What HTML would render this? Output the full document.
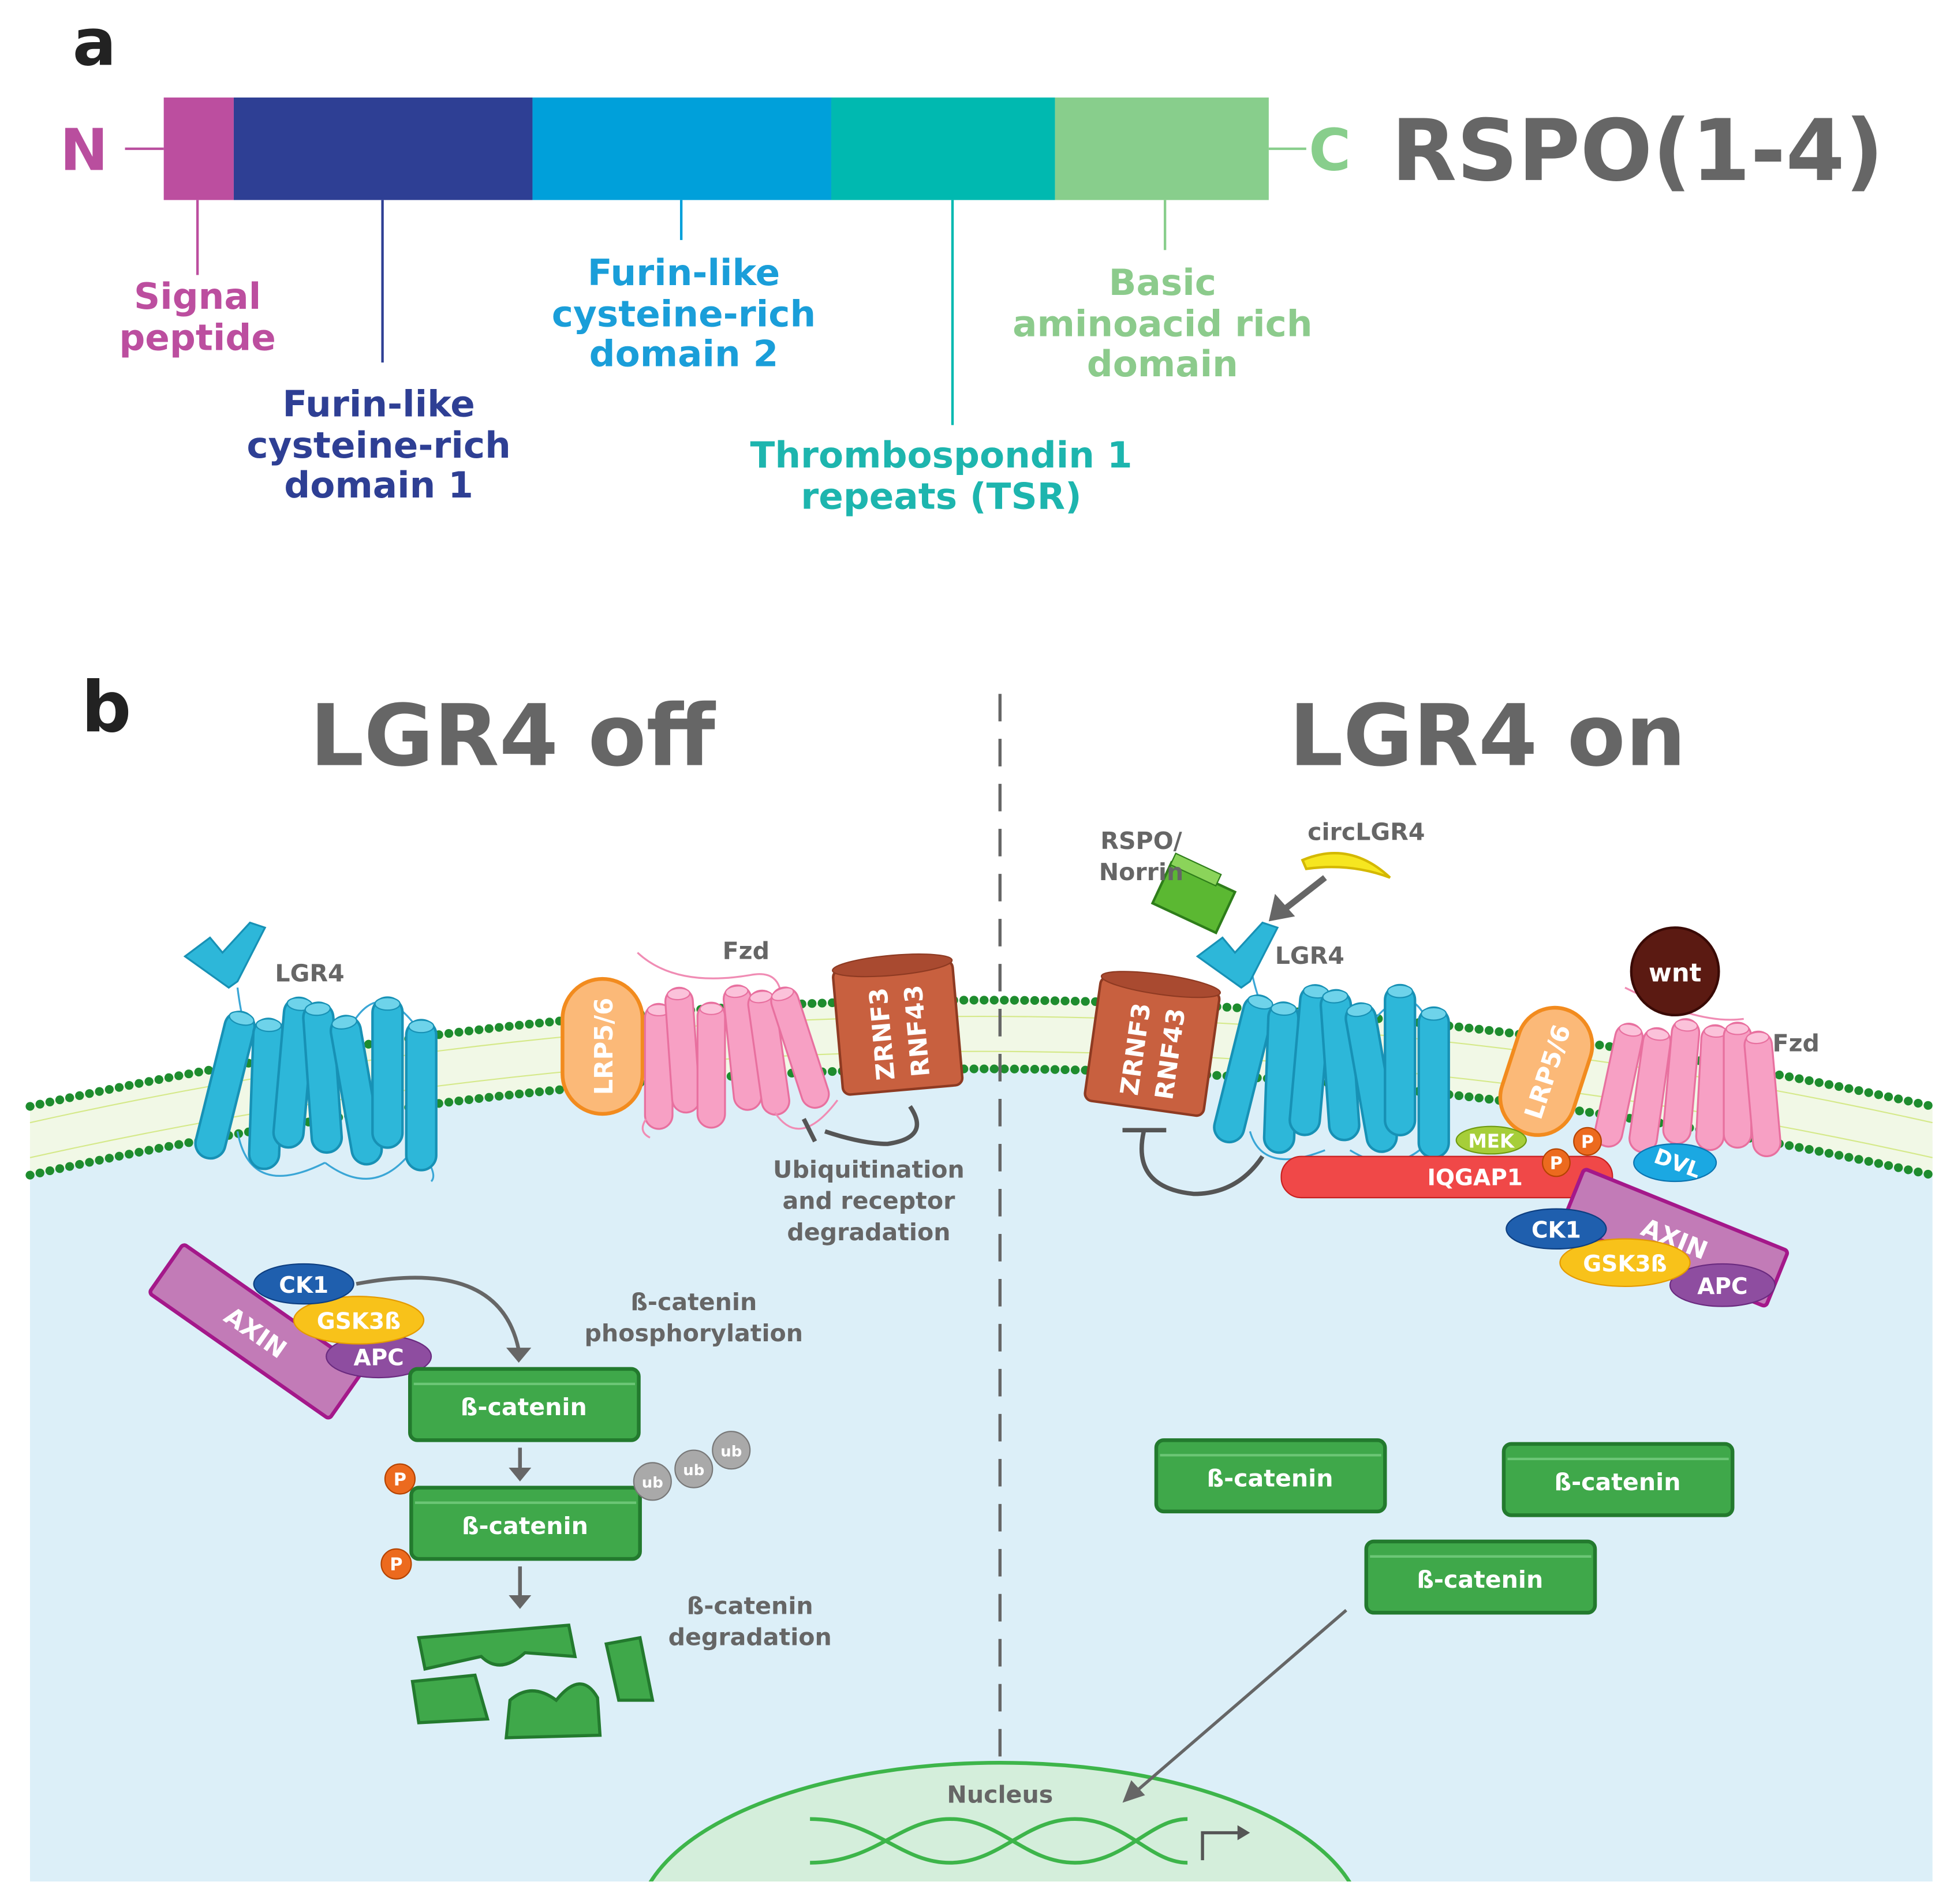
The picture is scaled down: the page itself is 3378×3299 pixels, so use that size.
<!DOCTYPE html>
<html><head><meta charset="utf-8"><style>
html,body{margin:0;padding:0;background:#fff;width:3378px;height:3299px;overflow:hidden}
svg{display:block;position:absolute;left:0;top:0}
text{font-family:"DejaVu Sans","Liberation Sans",sans-serif;font-weight:bold}
</style></head><body>
<svg width="3378" height="3299" viewBox="0 0 1560 1523" preserveAspectRatio="none" xmlns="http://www.w3.org/2000/svg">
<defs>
<g id="bc"><rect x="-12" y="-60" width="24" height="120" rx="12" fill="#2DB7D9" stroke="#1791B5" stroke-width="2"/><ellipse cx="0" cy="-55" rx="10" ry="5" fill="#6ED3EA" stroke="#1791B5"/></g>
<g id="pc"><rect x="-11" y="-50" width="22" height="100" rx="11" fill="#F7A0C4" stroke="#E8709F" stroke-width="1.5"/><ellipse cx="0" cy="-45" rx="9" ry="4.5" fill="#FBC2DA" stroke="#E8709F"/></g>
<g id="bcat"><rect x="0" y="0" width="183" height="57" rx="6" fill="#3FA84A" stroke="#237A2E" stroke-width="3"/><line x1="3" y1="12" x2="180" y2="12" stroke="#6CC676" stroke-width="2"/><text x="91" y="37" font-size="19" fill="#fff" text-anchor="middle">ß-catenin</text></g>
</defs>

<text x="58" y="52" font-size="52" fill="#222">a</text>
<text x="48" y="136" font-size="46" fill="#B94E9E">N</text>
<line x1="100" y1="119" x2="131" y2="119" stroke="#B94E9E" stroke-width="2"/>
<rect x="131" y="78" width="56" height="82" fill="#BC4E9F"/>
<rect x="187" y="78" width="239" height="82" fill="#2E3F94"/>
<rect x="426" y="78" width="239" height="82" fill="#00A0DA"/>
<rect x="665" y="78" width="179" height="82" fill="#00B9B0"/>
<rect x="844" y="78" width="171" height="82" fill="#88CE8C"/>
<line x1="1015" y1="119" x2="1045" y2="119" stroke="#88CE8C" stroke-width="2"/>
<text x="1047" y="136" font-size="46" fill="#88CE8C">C</text>
<text x="1113" y="144" font-size="68" fill="#666">RSPO(1-4)</text>
<g stroke-width="2">
<line x1="158" y1="160" x2="158" y2="220" stroke="#BC4E9F"/>
<line x1="306" y1="160" x2="306" y2="290" stroke="#2E3F94"/>
<line x1="545" y1="160" x2="545" y2="192" stroke="#00A0DA"/>
<line x1="762" y1="160" x2="762" y2="340" stroke="#00B9B0"/>
<line x1="932" y1="160" x2="932" y2="200" stroke="#88CE8C"/>
</g>
<g font-size="29" text-anchor="middle">
<text x="158" y="247" fill="#BC4E9F">Signal</text><text x="158" y="280" fill="#BC4E9F">peptide</text>
<text x="303" y="333" fill="#2E3F94">Furin-like</text><text x="303" y="366" fill="#2E3F94">cysteine-rich</text><text x="303" y="398" fill="#2E3F94">domain 1</text>
<text x="547" y="228" fill="#1A9ED9">Furin-like</text><text x="547" y="261" fill="#1A9ED9">cysteine-rich</text><text x="547" y="293" fill="#1A9ED9">domain 2</text>
<text x="753" y="374" fill="#1DB5AE">Thrombospondin 1</text><text x="753" y="407" fill="#1DB5AE">repeats (TSR)</text>
<text x="930" y="236" fill="#8CCB8C">Basic</text><text x="930" y="269" fill="#8CCB8C">aminoacid rich</text><text x="930" y="301" fill="#8CCB8C">domain</text>
</g>

<text x="65" y="585" font-size="56" fill="#222">b</text>
<text x="410" y="612" font-size="68" fill="#666" text-anchor="middle">LGR4 off</text>
<text x="1190" y="612" font-size="68" fill="#666" text-anchor="middle">LGR4 on</text>

<path d="M24,912 Q785,742 1546,912 L1546,1505 L24,1505 Z" fill="#DCEFF8"/>
<path d="M24,885 Q785,715 1546,885 L1546,940 Q785,770 24,940 Z" fill="#F1F8E6"/>
<path d="M24,885 Q785,715 1546,885" fill="none" stroke="#1E8C2E" stroke-width="7" stroke-dasharray="0.1 8" stroke-linecap="round"/>
<path d="M24,940 Q785,770 1546,940" fill="none" stroke="#1E8C2E" stroke-width="7" stroke-dasharray="0.1 8" stroke-linecap="round"/>
<path d="M24,898 Q785,728 1546,898 M24,926 Q785,756 1546,926" fill="none" stroke="#D5E98A" stroke-width="1"/>

<clipPath id="cl"><rect x="0" y="0" width="1560" height="1505"/></clipPath>
<ellipse cx="800" cy="1540" rx="290" ry="130" fill="#D4EEDB" stroke="#3DB54A" stroke-width="3" clip-path="url(#cl)"/>
<text x="800" y="1442" font-size="19" fill="#666" text-anchor="middle">Nucleus</text>
<path d="M648,1455 C700,1455 720,1490 760,1490 C800,1490 820,1455 860,1455 C900,1455 920,1490 950,1490" fill="none" stroke="#3DB54A" stroke-width="3"/>
<path d="M648,1490 C700,1490 720,1455 760,1455 C800,1455 820,1490 860,1490 C900,1490 920,1455 950,1455" fill="none" stroke="#3DB54A" stroke-width="3"/>
<path d="M962,1488 L962,1466 L992,1466" fill="none" stroke="#555" stroke-width="2.5"/>
<path d="M990,1460 L1000,1466 L990,1472 Z" fill="#555"/>

<line x1="800" y1="555" x2="800" y2="1410" stroke="#666" stroke-width="2.5" stroke-dasharray="22 14"/>

<g fill="none" stroke="#3AA6D6" stroke-width="1.5">
<path d="M190,790 Q195,830 205,840 M215,845 Q230,790 245,840 M270,845 Q300,760 345,840"/>
<path d="M190,905 Q200,960 260,930 M260,930 Q300,960 330,920 M340,925 Q350,940 345,945"/>
</g>
<use href="#bc" transform="translate(180,868) rotate(14)"/>
<use href="#bc" transform="translate(213,875) rotate(2)"/>
<use href="#bc" transform="translate(235,858) rotate(5)"/>
<use href="#bc" transform="translate(258,862) rotate(-4)"/>
<use href="#bc" transform="translate(285,872) rotate(-10)"/>
<use href="#bc" transform="translate(310,858) rotate(0)"/>
<use href="#bc" transform="translate(337,876) rotate(0)"/>
<path d="M148,765 L168,750 L178,762 L200,738 L212,742 L190,785 L183,790 Z" fill="#2DB7D9" stroke="#1791B5" stroke-width="1.5"/>
<text x="220" y="785" font-size="19" fill="#666">LGR4</text>

<path d="M510,762 Q540,790 600,780 Q625,775 625,800" fill="none" stroke="#F08CB4" stroke-width="1.5"/>
<text x="578" y="767" font-size="19" fill="#666">Fzd</text>
<rect x="450" y="783" width="64" height="108" rx="32" fill="#FBB978" stroke="#F28B1E" stroke-width="3"/>
<text transform="translate(490,837) rotate(-90)" font-size="20" fill="#fff" text-anchor="middle">LRP5/6</text>
<use href="#pc" transform="translate(527,853) rotate(0)"/>
<use href="#pc" transform="translate(546,840) rotate(-4)"/>
<use href="#pc" transform="translate(569,852) rotate(0)"/>
<use href="#pc" transform="translate(594,838) rotate(-6)"/>
<use href="#pc" transform="translate(615,842) rotate(-8)"/>
<use href="#pc" transform="translate(640,838) rotate(-18)"/>
<path d="M517,895 Q510,905 520,910 M620,890 Q640,920 670,880" fill="none" stroke="#F08CB4" stroke-width="1.5"/>
<g transform="translate(718,820) rotate(-5)">
<rect x="-48" y="-48" width="96" height="100" rx="6" fill="#C8603F" stroke="#8E3A22" stroke-width="2"/>
<ellipse cx="0" cy="-48" rx="48" ry="8" fill="#A94A30" stroke="#8E3A22"/>
<text transform="translate(-6,6) rotate(-90)" font-size="20" fill="#fff" text-anchor="middle">ZRNF3</text>
<text transform="translate(22,6) rotate(-90)" font-size="20" fill="#fff" text-anchor="middle">RNF43</text>
</g>
<path d="M728,885 Q745,910 710,915 Q690,915 660,905" fill="none" stroke="#555" stroke-width="3.5"/>
<line x1="643" y1="895" x2="652" y2="913" stroke="#555" stroke-width="3.5"/>
<g font-size="19" fill="#666" text-anchor="middle">
<text x="695" y="942">Ubiquitination</text><text x="695" y="967">and receptor</text><text x="695" y="992">degradation</text>
<text x="555" y="1048">ß-catenin</text><text x="555" y="1073">phosphorylation</text>
<text x="600" y="1291">ß-catenin</text><text x="600" y="1316">degradation</text>
</g>

<g transform="translate(205,1065) rotate(35)">
<rect x="-88" y="-24" width="176" height="48" rx="3" fill="#C27BB7" stroke="#A4188A" stroke-width="3"/>
<text x="0" y="8" font-size="20" fill="#fff" text-anchor="middle">AXIN</text>
</g>
<path d="M285,1027 Q400,1005 415,1080" fill="none" stroke="#666" stroke-width="3"/>
<path d="M405,1078 L415,1090 L425,1078 Z" fill="#666"/>
<ellipse cx="303" cy="1085" rx="42" ry="17" fill="#8E4DA0" stroke="#6A2A7F"/>
<text x="303" y="1092" font-size="18" fill="#fff" text-anchor="middle">APC</text>
<ellipse cx="287" cy="1056" rx="52" ry="19" fill="#F8C21A" stroke="#E49A00"/>
<text x="287" y="1063" font-size="18" fill="#fff" text-anchor="middle">GSK3ß</text>
<ellipse cx="243" cy="1027" rx="40" ry="16" fill="#1F5FAE" stroke="#0D3E80"/>
<text x="243" y="1034" font-size="18" fill="#fff" text-anchor="middle">CK1</text>

<use href="#bcat" x="328" y="1095"/>
<use href="#bcat" x="329" y="1190"/>
<g stroke="#666" stroke-width="3"><line x1="416" y1="1158" x2="416" y2="1175"/><line x1="416" y1="1253" x2="416" y2="1277"/></g>
<path d="M407,1174 L416,1185 L425,1174 Z M407,1276 L416,1287 L425,1276 Z" fill="#666"/>
<g font-size="12" fill="#fff" text-anchor="middle">
<circle cx="320" cy="1183" r="12" fill="#EC6A1E" stroke="#B44300"/><text x="320" y="1188" font-size="14">P</text>
<circle cx="317" cy="1251" r="12" fill="#EC6A1E" stroke="#B44300"/><text x="317" y="1256" font-size="14">P</text>
<circle cx="522" cy="1185" r="15" fill="#A9A9A9" stroke="#777"/><text x="522" y="1190">ub</text>
<circle cx="555" cy="1175" r="15" fill="#A9A9A9" stroke="#777"/><text x="555" y="1180">ub</text>
<circle cx="585" cy="1160" r="15" fill="#A9A9A9" stroke="#777"/><text x="585" y="1165">ub</text>
</g>
<g fill="#3FA84A" stroke="#237A2E" stroke-width="2.5">
<path d="M335,1310 L455,1300 L460,1325 L420,1322 Q400,1340 385,1325 L340,1335 Z"/>
<path d="M330,1345 L380,1340 L390,1375 L335,1378 Z"/>
<path d="M408,1360 Q425,1345 445,1360 Q465,1335 478,1358 L480,1388 L405,1390 Z"/>
<path d="M485,1315 L512,1310 L522,1360 L495,1360 Z"/>
</g>

<g transform="translate(922,835) rotate(8)">
<rect x="-48" y="-48" width="96" height="100" rx="6" fill="#C8603F" stroke="#8E3A22" stroke-width="2"/>
<ellipse cx="0" cy="-48" rx="48" ry="8" fill="#A94A30" stroke="#8E3A22"/>
<text transform="translate(-6,6) rotate(-90)" font-size="20" fill="#fff" text-anchor="middle">ZRNF3</text>
<text transform="translate(22,6) rotate(-90)" font-size="20" fill="#fff" text-anchor="middle">RNF43</text>
</g>
<path d="M915,905 Q905,950 955,955 Q990,955 1010,925" fill="none" stroke="#555" stroke-width="3.5"/>
<line x1="898" y1="904" x2="933" y2="904" stroke="#555" stroke-width="3.5"/>
<g fill="none" stroke="#3AA6D6" stroke-width="1.5">
<path d="M1000,770 Q1005,800 1015,815 M1030,820 Q1060,770 1090,815 M1100,815 Q1130,780 1145,825"/>
<path d="M1000,905 Q1010,940 1060,920 M1080,920 Q1120,945 1150,905"/>
</g>
<use href="#bc" transform="translate(995,855) rotate(14)"/>
<use href="#bc" transform="translate(1025,862) rotate(2)"/>
<use href="#bc" transform="translate(1048,848) rotate(5)"/>
<use href="#bc" transform="translate(1072,852) rotate(-4)"/>
<use href="#bc" transform="translate(1097,862) rotate(-10)"/>
<use href="#bc" transform="translate(1120,848) rotate(0)"/>
<use href="#bc" transform="translate(1147,866) rotate(0)"/>
<path d="M958,765 L978,750 L988,762 L1010,738 L1022,742 L1000,785 L993,790 Z" fill="#2DB7D9" stroke="#1791B5" stroke-width="1.5"/>
<text x="1020" y="771" font-size="19" fill="#666">LGR4</text>
<g transform="translate(955,718) rotate(25)">
<rect x="-28" y="-18" width="56" height="36" fill="#5BB832" stroke="#2E7D1A" stroke-width="2"/>
<rect x="-28" y="-26" width="40" height="10" fill="#8BD45A" stroke="#2E7D1A"/>
</g>
<text x="913" y="679" font-size="19" fill="#666" text-anchor="middle">RSPO/</text>
<text x="913" y="704" font-size="19" fill="#666" text-anchor="middle">Norrin</text>
<text x="1093" y="672" font-size="19" fill="#666" text-anchor="middle">circLGR4</text>
<path d="M1042,688 Q1080,672 1112,702 Q1080,690 1045,695 Z" fill="#F6E620" stroke="#D4B800" stroke-width="2"/>
<line x1="1060" y1="702" x2="1028" y2="727" stroke="#666" stroke-width="5"/>
<path d="M1015,737 L1020,715 L1036,733 Z" fill="#666"/>

<g transform="translate(1237,857) rotate(18)">
<rect x="-30" y="-52" width="60" height="104" rx="30" fill="#FBB978" stroke="#F28B1E" stroke-width="3"/>
<text transform="rotate(-90)" y="8" font-size="20" fill="#fff" text-anchor="middle">LRP5/6</text>
</g>
<path d="M1300,790 Q1360,820 1395,815" fill="none" stroke="#F08CB4" stroke-width="1.5"/>
<use href="#pc" transform="translate(1295,868) rotate(12)"/>
<use href="#pc" transform="translate(1320,872) rotate(8)"/>
<use href="#pc" transform="translate(1345,865) rotate(5)"/>
<use href="#pc" transform="translate(1370,870) rotate(3)"/>
<use href="#pc" transform="translate(1390,868) rotate(0)"/>
<use href="#pc" transform="translate(1410,875) rotate(-5)"/>
<text x="1418" y="841" font-size="19" fill="#666">Fzd</text>
<circle cx="1340" cy="777" r="35" fill="#5B1A12" stroke="#3A0A05" stroke-width="2"/>
<text x="1340" y="785" font-size="20" fill="#fff" text-anchor="middle">wnt</text>

<rect x="1025" y="925" width="265" height="33" rx="16" fill="#F04848" stroke="#C82020"/>
<text x="1180" y="948" font-size="18" fill="#fff" text-anchor="middle">IQGAP1</text>
<ellipse cx="1193" cy="912" rx="28" ry="11" fill="#A6CE39" stroke="#6E9A10"/>
<text x="1193" y="918" font-size="15" fill="#fff" text-anchor="middle">MEK</text>
<circle cx="1270" cy="913" r="11" fill="#EC6A1E" stroke="#B44300"/><text x="1270" y="918" font-size="14" fill="#fff" text-anchor="middle">P</text>
<circle cx="1245" cy="930" r="11" fill="#EC6A1E" stroke="#B44300"/><text x="1245" y="935" font-size="14" fill="#fff" text-anchor="middle">P</text>
<ellipse cx="1340" cy="930" rx="33" ry="15" fill="#1BA8E2" stroke="#0B74B0"/>
<text transform="translate(1340,936) rotate(20)" font-size="17" fill="#fff" text-anchor="middle">DVL</text>
<g transform="translate(1340,990) rotate(22)">
<rect x="-88" y="-24" width="176" height="48" rx="3" fill="#C27BB7" stroke="#A4188A" stroke-width="3"/>
<text x="0" y="8" font-size="20" fill="#fff" text-anchor="middle">AXIN</text>
</g>
<ellipse cx="1378" cy="1028" rx="42" ry="17" fill="#8E4DA0" stroke="#6A2A7F"/>
<text x="1378" y="1035" font-size="18" fill="#fff" text-anchor="middle">APC</text>
<ellipse cx="1300" cy="1010" rx="52" ry="19" fill="#F8C21A" stroke="#E49A00"/>
<text x="1300" y="1017" font-size="18" fill="#fff" text-anchor="middle">GSK3ß</text>
<ellipse cx="1245" cy="983" rx="40" ry="16" fill="#1F5FAE" stroke="#0D3E80"/>
<text x="1245" y="990" font-size="18" fill="#fff" text-anchor="middle">CK1</text>

<use href="#bcat" x="925" y="1152"/>
<use href="#bcat" x="1203" y="1155"/>
<use href="#bcat" x="1093" y="1233"/>
<line x1="1077" y1="1288" x2="910" y2="1432" stroke="#666" stroke-width="2.5"/>
<path d="M898,1442 L905,1424 L916,1436 Z" fill="#666"/>
</svg>
</body></html>
